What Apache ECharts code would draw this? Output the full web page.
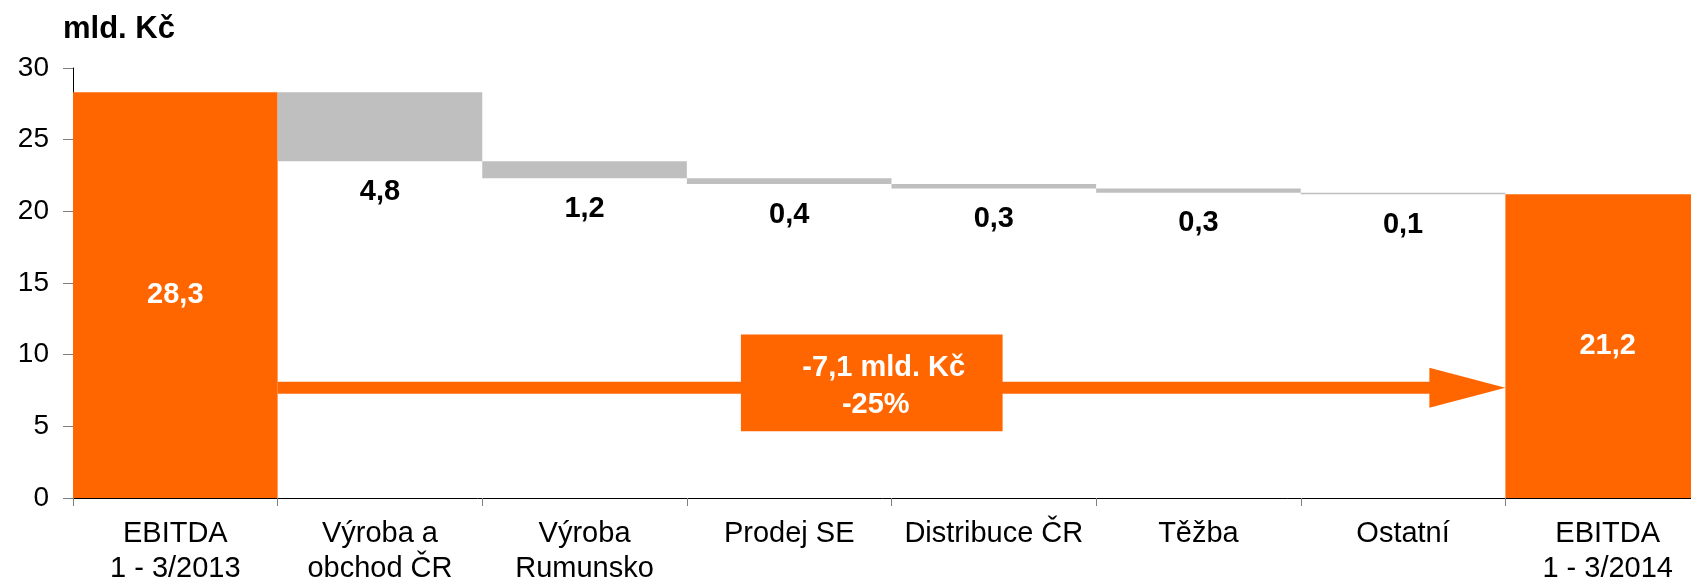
<!DOCTYPE html>
<html>
<head>
<meta charset="utf-8">
<script src="https://cdn.jsdelivr.net/npm/echarts@6/dist/echarts.min.js"></script>
<style>
html,body{margin:0;padding:0;background:#fff;}
#c{width:1691px;height:580px;}
</style>
</head>
<body>
<div id="c"></div>
<script>
// ---- data ----
var categories = ['EBITDA\n1 - 3/2013', 'Výroba a\nobchod ČR', 'Výroba\nRumunsko', 'Prodej SE', 'Distribuce ČR', 'Těžba', 'Ostatní', 'EBITDA\n1 - 3/2014'];
var startValue = 28.3;
var deltas = [4.8, 1.2, 0.4, 0.3, 0.3, 0.1];
var endValue = 21.2;
var changeText = ['-7,1 mld. Kč', '-25%'];
var unitLabel = 'mld. Kč';
var yTicks = [0, 5, 10, 15, 20, 25, 30];

// annotation placement (in axis units)
var arrowLevel = 7.7;
var boxRange = [4.65, 11.4];
var boxIdx = [2.764, 4.043];

var ORANGE = '#FF6600', GRAY = '#BFBFBF';
var FONT = 'Liberation Sans, Arial, sans-serif';

function fmt(v){ return v.toFixed(1).replace('.', ','); }

var boldLabel = {fontFamily:FONT, fontWeight:'bold', fontSize:29};

// build waterfall
var baseData = [0], valData = [];
valData.push({value: startValue, itemStyle:{color: ORANGE},
  label:Object.assign({show:true, position:'inside', color:'#fff', formatter: fmt(startValue)}, boldLabel)});
var run = startValue;
deltas.forEach(function(d){
  run = Math.round((run - d)*10)/10;
  baseData.push(run);
  valData.push({value: d, itemStyle:{color: GRAY},
    label:Object.assign({show:true, position:'bottom', distance:16, color:'#000', formatter: fmt(d)}, boldLabel)});
});
baseData.push(0);
valData.push({value: endValue, itemStyle:{color: ORANGE},
  label:Object.assign({show:true, position:'inside', color:'#fff', formatter: fmt(endValue)}, boldLabel)});

var chart = echarts.init(document.getElementById('c'));
chart.setOption({
  animation:false,
  grid:{left:73, top:68, width:1637, height:430, containLabel:false, outerBoundsMode:'none'},
  graphic:[{type:'text', left:63, top:14, style:{text:unitLabel, fontFamily:FONT, fontWeight:'bold', fontSize:31, fill:'#000'}}],
  xAxis:{type:'category', data:categories,
    axisLine:{lineStyle:{color:'#000', width:1}},
    axisTick:{show:true, length:8, interval:0, lineStyle:{color:'#808080'}},
    axisLabel:{interval:0, color:'#000', fontFamily:FONT, fontSize:29, lineHeight:35, margin:18}},
  yAxis:{type:'value', min:yTicks[0], max:yTicks[yTicks.length-1], interval:5,
    axisLine:{show:true, lineStyle:{color:'#000', width:1}},
    axisTick:{show:true, length:10, lineStyle:{color:'#808080'}},
    splitLine:{show:false},
    axisLabel:{color:'#000', fontFamily:FONT, fontSize:28, margin:24}},
  series:[
    {type:'bar', stack:'w', data:baseData, barCategoryGap:'0%', itemStyle:{color:'transparent'}, silent:true},
    {type:'bar', stack:'w', data:valData, barCategoryGap:'0%'},
    {type:'custom', data:[[0, arrowLevel]], z:10,
      renderItem:function(params, api){
        var bw = api.size([1,0])[0];
        var p0 = api.coord([0, arrowLevel]);
        var x0 = p0[0] + bw/2;             // right edge of first bar
        var x1 = api.coord([categories.length-1, arrowLevel])[0] - bw/2; // left edge of last bar
        var y = p0[1];
        var headLen = 76, headH = 40, th = 12;
        var bTop = api.coord([0, boxRange[1]])[1];
        var bBot = api.coord([0, boxRange[0]])[1];
        var bx0 = api.coord([0,0])[0] + (boxIdx[0])*bw;
        var bx1 = api.coord([0,0])[0] + (boxIdx[1])*bw;
        var tStyle = {fill:'#fff', fontFamily:FONT, fontWeight:'bold', fontSize:29, align:'center', verticalAlign:'middle'};
        return {type:'group', children:[
          {type:'rect', shape:{x:x0, y:y-th/2, width:(x1-headLen)-x0+1, height:th}, style:{fill:ORANGE}},
          {type:'polygon', shape:{points:[[x1-headLen, y-headH/2],[x1, y],[x1-headLen, y+headH/2]]}, style:{fill:ORANGE}},
          {type:'rect', shape:{x:bx0, y:bTop, width:bx1-bx0, height:bBot-bTop}, style:{fill:ORANGE}},
          {type:'text', style:Object.assign({x:(bx0+bx1)/2+12, y:(bTop+bBot)/2-15, text:changeText[0]}, tStyle)},
          {type:'text', style:Object.assign({x:(bx0+bx1)/2+4, y:(bTop+bBot)/2+22, text:changeText[1]}, tStyle)}
        ]};
      }
    }
  ]
});
</script>
</body>
</html>
